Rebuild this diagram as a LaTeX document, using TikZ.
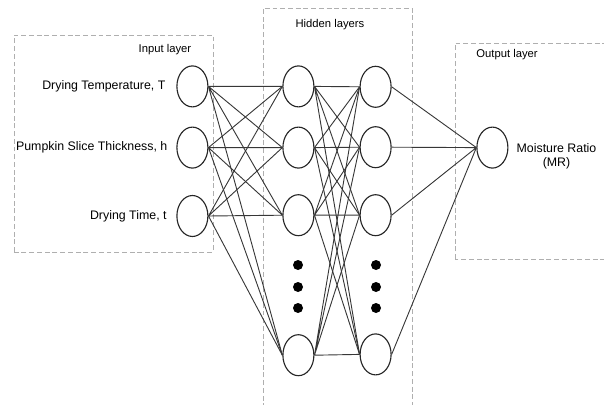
\documentclass[tikz,border=0pt]{standalone}
\usepackage{fontspec}
\setmainfont{Liberation Sans}
\usetikzlibrary{shapes,positioning}
\definecolor{boxgray}{RGB}{175,175,175}
\definecolor{wiregray}{RGB}{55,55,55}

\begin{document}
\begin{tikzpicture}[
    neuron/.style={ellipse, draw=black!85, line width=0.8pt, fill=white, minimum width=0.775cm, minimum height=1.025cm, inner sep=0pt},
    layerbox/.style={draw=boxgray, dash pattern=on 3.5pt off 2pt, line width=0.65pt},
    wire/.style={draw=wiregray, line width=0.65pt},
    dot/.style={circle, fill=black, minimum size=0.25cm, inner sep=0pt},
    label/.style={font=\fontsize{8.8}{10.5}\selectfont},
    title/.style={font=\fontsize{8}{9}\selectfont}
]
\useasboundingbox (0,0) rectangle (15.1,10.1);

% Layer boxes
\draw[layerbox] (0.35,3.8) rectangle (5.325,9.225);
\draw[layerbox] (6.575,-0.3) rectangle (10.3,9.9);
\draw[layerbox] (11.375,3.625) rectangle (15.2,9.025);

\node[title] (intitle) at (4.125, 8.85) {Input layer};
\node[title] (hidtitle) at (8.25, 9.475) {Hidden layers};
\node[title] (outtitle) at (12.675, 8.725) {Output layer};

% Input layer
\node[neuron] (in1) at (4.81, 7.94) {};
\node[neuron] (in2) at (4.81, 6.41) {};
\node[neuron] (in3) at (4.81, 4.7) {};

\node[label, left=0.15cm of in1] (lbl1) {Drying Temperature, T};
\node[label, left=0.1cm of in2] (lbl2) {Pumpkin Slice Thickness, h};
\node[label, left=0.12cm of in3] (lbl3) {Drying Time, t};

% Hidden layer 1
\node[neuron] (ha1) at (7.46, 7.94) {};
\node[neuron] (ha2) at (7.46, 6.41) {};
\node[neuron] (ha3) at (7.46, 4.72) {};
\node[neuron] (ha4) at (7.46, 1.22) {};

\node[dot] (hadot1) at (7.45, 3.475) {};
\node[dot] (hadot2) at (7.45, 2.925) {};
\node[dot] (hadot3) at (7.45, 2.4) {};

% Hidden layer 2
\node[neuron] (hb1) at (9.39, 7.93) {};
\node[neuron] (hb2) at (9.39, 6.42) {};
\node[neuron] (hb3) at (9.39, 4.72) {};
\node[neuron] (hb4) at (9.39, 1.24) {};

\node[dot] (hbdot1) at (9.4, 3.475) {};
\node[dot] (hbdot2) at (9.4, 2.925) {};
\node[dot] (hbdot3) at (9.4, 2.4) {};

% Output layer
\node[neuron] (out) at (12.31, 6.41) {};
\node[label, align=center, right=0.08cm of out, yshift=-0.22cm] (outlbl) {Moisture Ratio\\(MR)};

% Input -> hidden 1
\draw[wire] (in1.east) -- (ha1.west) (in1.east) -- (ha2.west) (in1.east) -- (ha3.west) (in1.east) -- (ha4.west);
\draw[wire] (in2.east) -- (ha1.west) (in2.east) -- (ha2.west) (in2.east) -- (ha3.west) (in2.east) -- (ha4.west);
\draw[wire] (in3.east) -- (ha1.west) (in3.east) -- (ha2.west) (in3.east) -- (ha3.west) (in3.east) -- (ha4.west);

% Hidden 1 -> hidden 2
\draw[wire] (ha1.east) -- (hb1.west) (ha1.east) -- (hb2.west) (ha1.east) -- (hb3.west) (ha1.east) -- (hb4.west);
\draw[wire] (ha2.east) -- (hb1.west) (ha2.east) -- (hb2.west) (ha2.east) -- (hb3.west) (ha2.east) -- (hb4.west);
\draw[wire] (ha3.east) -- (hb1.west) (ha3.east) -- (hb2.west) (ha3.east) -- (hb3.west) (ha3.east) -- (hb4.west);
\draw[wire] (ha4.east) -- (hb1.west) (ha4.east) -- (hb2.west) (ha4.east) -- (hb3.west) (ha4.east) -- (hb4.west);

% Hidden 2 -> output
\draw[wire] (hb1.east) -- (out.west) (hb2.east) -- (out.west) (hb3.east) -- (out.west) (hb4.east) -- (out.west);

\end{tikzpicture}
\end{document}
